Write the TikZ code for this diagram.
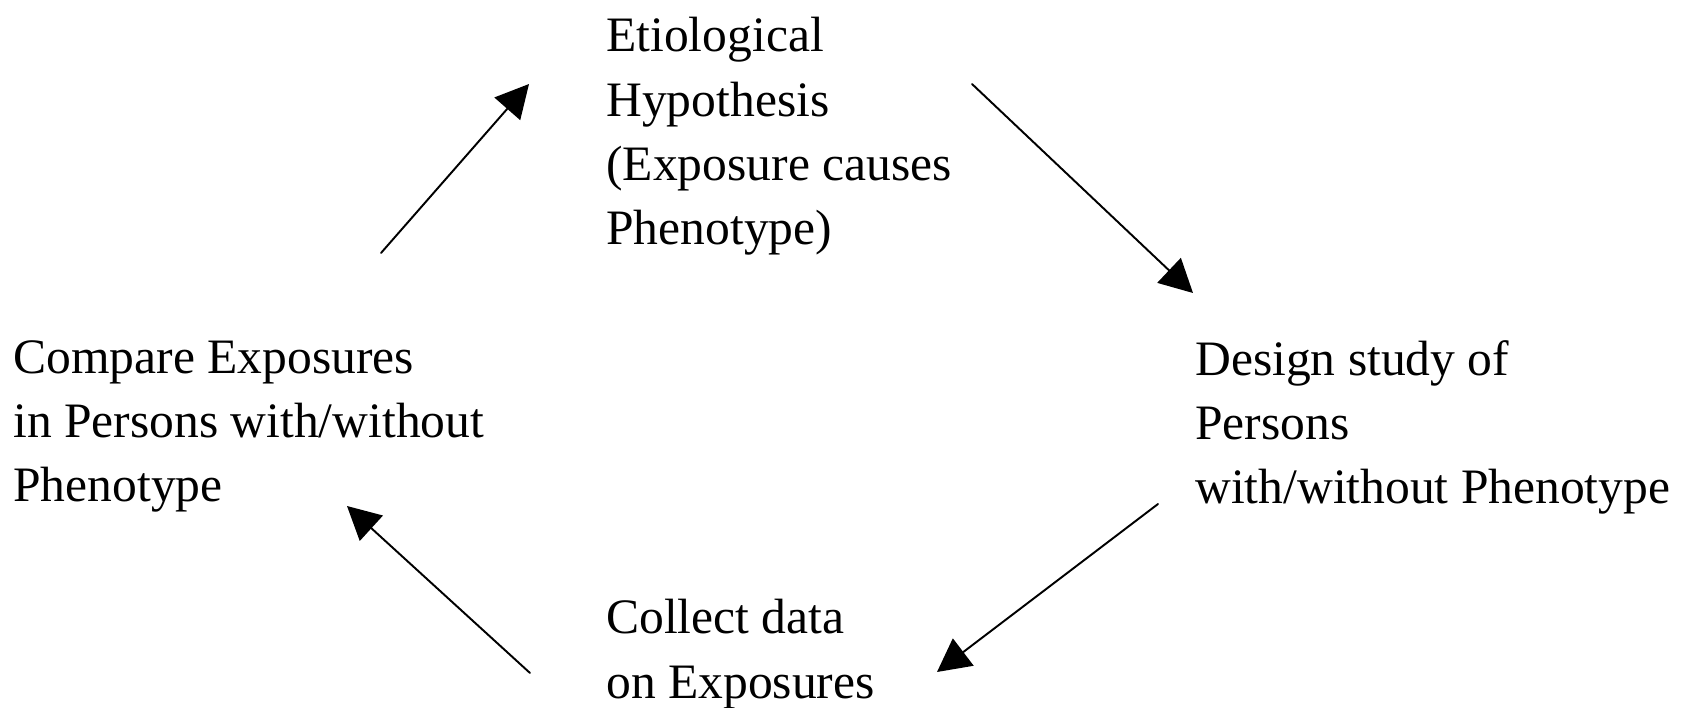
\documentclass[tikz,border=0pt]{standalone}
\usepackage{fontspec}
\setmainfont{Liberation Serif}
\usepackage{tikz}
\usepackage{tkz-euclide}
\usetikzlibrary{arrows.meta}

\begin{document}
\begin{tikzpicture}[
  label/.style = {anchor=north west, inner sep=0pt, align=left,
    font=\fontsize{28.2}{36.6}\selectfont},
  line/.style = {line width=1.1pt, color=black},
  >={Triangle[length=0.66cm, width=0.68cm]},
]

  \useasboundingbox (0,0) rectangle (33.62,-14.14);

  \node[label] (hypo) at (12.12,-0.34) {Etiological\\Hypothesis\\(Exposure causes\\Phenotype)};
  \node[label] (compare) at (0.26,-6.80) {Compare Exposures\\in Persons with/without\\Phenotype};
  \node[label] (design) at (23.90,-6.80) {Design study of\\Persons\\with/without Phenotype};
  \node[label] (collect) at (12.12,-11.98) {Collect data\\on Exposures};

  \tkzDefPoint(7.62,-5.06){a1s}
  \tkzDefPoint(10.58,-1.68){a1e}
  \tkzDefPoint(19.44,-1.68){a2s}
  \tkzDefPoint(23.86,-5.86){a2e}
  \tkzDefPoint(23.16,-10.08){a3s}
  \tkzDefPoint(18.74,-13.44){a3e}
  \tkzDefPoint(10.60,-13.46){a4s}
  \tkzDefPoint(6.94,-10.12){a4e}

  % cycle
  \tkzDrawSegments[line,->](a1s,a1e a2s,a2e a3s,a3e a4s,a4e)

\end{tikzpicture}
\end{document}
